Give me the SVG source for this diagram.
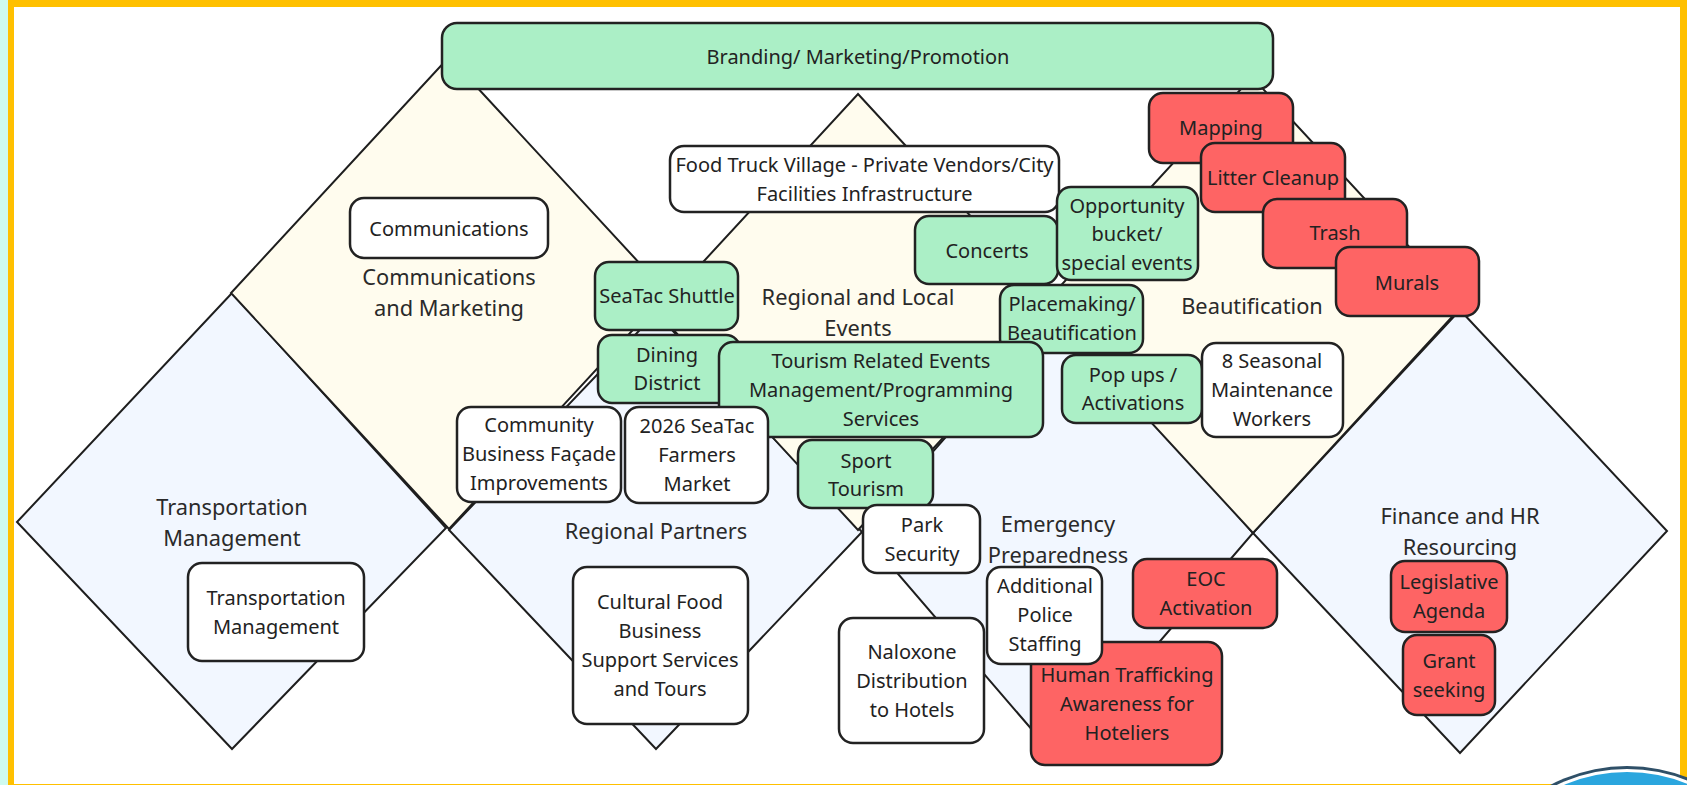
<svg xmlns="http://www.w3.org/2000/svg" width="1687" height="785" viewBox="0 0 1687 785">
<style>
.dia{stroke:#1e1e1e;stroke-width:2;stroke-linejoin:miter}
.cream{fill:#fffcee}
.blue{fill:#f2f7ff}
.box{stroke:#222;stroke-width:2.5}
.g{fill:#abefc6}
.r{fill:#fe6464}
.w{fill:#ffffff}
text{font-family:"Noto Sans","Open Sans",sans-serif;font-size:20px;fill:#222;text-anchor:middle}
.lbl{font-size:21.8px;fill:#2a2a2a}
</style>
<rect x="0" y="0" width="1687" height="785" fill="#cffaef"/>
<rect x="8" y="0" width="1679" height="785" fill="#ffc000"/>
<rect x="14" y="7" width="1666" height="777" fill="#ffffff"/>

<g id="diamond-transportation"><polygon class="dia blue" points="232,293 446,528 232,749 17,522"/><text class="lbl" x="232" y="515">Transportation</text><text class="lbl" x="232" y="546">Management</text></g>
<g id="diamond-regional-partners"><polygon class="dia blue" points="656,313 862,532 656,749 449,530"/><text class="lbl" x="656" y="539">Regional Partners</text></g>
<g id="diamond-emergency"><polygon class="dia blue" points="1058,310 1253,533 1058,760 862,532"/><text class="lbl" x="1058" y="532">Emergency</text><text class="lbl" x="1058" y="563">Preparedness</text></g>
<g id="diamond-finance"><polygon class="dia blue" points="1460,310 1667,531 1460,753 1253,533"/><text class="lbl" x="1460" y="524">Finance and HR</text><text class="lbl" x="1460" y="555">Resourcing</text></g>
<g id="diamond-communications"><polygon class="dia cream" points="449,57 667,293 449,529 231,293"/><text class="lbl" x="449" y="285">Communications</text><text class="lbl" x="449" y="316">and Marketing</text></g>
<g id="diamond-regional-local"><polygon class="dia cream" points="858,94 1059,312 858,530 657,312"/><text class="lbl" x="858" y="305">Regional and Local</text><text class="lbl" x="858" y="336">Events</text></g>
<g id="diamond-beautification"><polygon class="dia cream" points="1252,77 1463,305 1253,533 1043,305"/><text class="lbl" x="1252" y="314">Beautification</text></g>

<g id="connectors"></g>

<g id="n-branding"><rect class="box g" x="442" y="23" width="831" height="66" rx="15"/><text x="858" y="64">Branding/ Marketing/Promotion</text></g>
<g id="n-communications"><rect class="box w" x="350" y="198" width="198" height="60" rx="14"/><text x="449" y="236">Communications</text></g>
<g id="n-foodtruck"><rect class="box w" x="670" y="146" width="389" height="66" rx="14"/><text x="864.5" y="172">Food Truck Village - Private Vendors/City</text><text x="864.5" y="201">Facilities Infrastructure</text></g>
<g id="n-concerts"><rect class="box g" x="915" y="216" width="143" height="68" rx="14"/><text x="987" y="258">Concerts</text></g>
<g id="n-opportunity"><rect class="box g" x="1057" y="187" width="141" height="93" rx="14"/><text x="1127" y="213">Opportunity</text><text x="1127" y="241">bucket/</text><text x="1127" y="270">special events</text></g>
<g id="n-placemaking"><rect class="box g" x="1000" y="285" width="143" height="68" rx="14"/><text x="1072" y="311">Placemaking/</text><text x="1072" y="340">Beautification</text></g>
<g id="n-popups"><rect class="box g" x="1062" y="355" width="140" height="68" rx="14"/><text x="1133" y="382">Pop ups /</text><text x="1133" y="410">Activations</text></g>
<g id="n-seasonal"><rect class="box w" x="1202" y="343" width="141" height="94" rx="14"/><text x="1272" y="368">8 Seasonal</text><text x="1272" y="397">Maintenance</text><text x="1272" y="426">Workers</text></g>
<g id="n-shuttle"><rect class="box g" x="595" y="262" width="143" height="68" rx="14"/><text x="667" y="303">SeaTac Shuttle</text></g>
<g id="n-dining"><rect class="box g" x="598" y="335" width="142" height="68" rx="14"/><text x="667" y="362">Dining</text><text x="667" y="390">District</text></g>
<g id="n-tourism"><rect class="box g" x="719" y="342" width="324" height="95" rx="14"/><text x="881" y="368">Tourism Related Events</text><text x="881" y="397">Management/Programming</text><text x="881" y="426">Services</text></g>
<g id="n-facade"><rect class="box w" x="457" y="407" width="164" height="95" rx="14"/><text x="539" y="432">Community</text><text x="539" y="461">Business Façade</text><text x="539" y="490">Improvements</text></g>
<g id="n-farmers"><rect class="box w" x="625" y="407" width="143" height="96" rx="14"/><text x="697" y="433">2026 SeaTac</text><text x="697" y="462">Farmers</text><text x="697" y="491">Market</text></g>
<g id="n-sport"><rect class="box g" x="798" y="440" width="135" height="68" rx="14"/><text x="866" y="468">Sport</text><text x="866" y="496">Tourism</text></g>
<g id="n-park"><rect class="box w" x="863" y="505" width="117" height="68" rx="14"/><text x="922" y="532">Park</text><text x="922" y="561">Security</text></g>
<g id="n-naloxone"><rect class="box w" x="839" y="618" width="145" height="125" rx="14"/><text x="912" y="659">Naloxone</text><text x="912" y="688">Distribution</text><text x="912" y="717">to Hotels</text></g>
<g id="n-trafficking"><rect class="box r" x="1031" y="642" width="191" height="123" rx="14"/><text x="1127" y="682">Human Trafficking</text><text x="1127" y="711">Awareness for</text><text x="1127" y="740">Hoteliers</text></g>
<g id="n-police"><rect class="box w" x="987" y="567" width="115" height="97" rx="14"/><text x="1045" y="593">Additional</text><text x="1045" y="622">Police</text><text x="1045" y="651">Staffing</text></g>
<g id="n-eoc"><rect class="box r" x="1133" y="559" width="144" height="69" rx="14"/><text x="1206" y="586">EOC</text><text x="1206" y="615">Activation</text></g>
<g id="n-cultural"><rect class="box w" x="573" y="567" width="175" height="157" rx="14"/><text x="660" y="609">Cultural Food</text><text x="660" y="638">Business</text><text x="660" y="667">Support Services</text><text x="660" y="696">and Tours</text></g>
<g id="n-transportation"><rect class="box w" x="188" y="563" width="176" height="98" rx="14"/><text x="276" y="605">Transportation</text><text x="276" y="634">Management</text></g>
<g id="n-mapping"><rect class="box r" x="1149" y="93" width="144" height="70" rx="14"/><text x="1221" y="135">Mapping</text></g>
<g id="n-litter"><rect class="box r" x="1201" y="143" width="144" height="69" rx="14"/><text x="1273" y="185">Litter Cleanup</text></g>
<g id="n-trash"><rect class="box r" x="1263" y="199" width="144" height="69" rx="14"/><text x="1335" y="240">Trash</text></g>
<g id="n-murals"><rect class="box r" x="1336" y="247" width="143" height="69" rx="14"/><text x="1407" y="290">Murals</text></g>
<g id="n-legislative"><rect class="box r" x="1391" y="561" width="116" height="71" rx="14"/><text x="1449" y="589">Legislative</text><text x="1449" y="618">Agenda</text></g>
<g id="n-grant"><rect class="box r" x="1403" y="635" width="92" height="80" rx="14"/><text x="1449" y="668">Grant</text><text x="1449" y="697">seeking</text></g>

<g id="logo"><circle cx="1627" cy="931" r="165" fill="#2f5068"/><circle cx="1627" cy="931" r="162" fill="#ffffff"/><circle cx="1627" cy="931" r="159" fill="#2ba6de"/></g>
</svg>
